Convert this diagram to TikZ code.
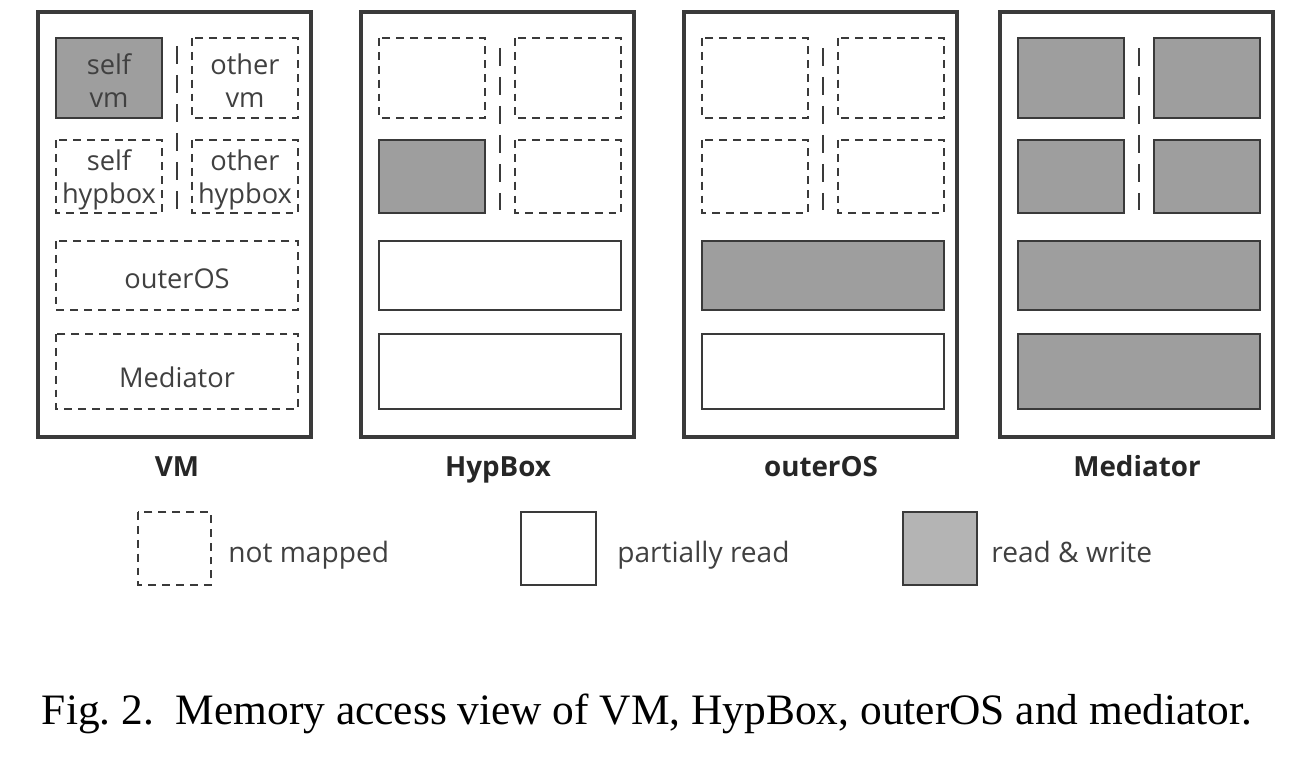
\documentclass[tikz,border=0pt]{standalone}
\usepackage{fontspec}
\setmainfont{Liberation Serif}
\newfontfamily\uifont{Open Sans}
\definecolor{edgegray}{HTML}{3A3A3A}
\definecolor{rwgray}{HTML}{9E9E9E}
\definecolor{keygray}{HTML}{B4B4B4}
\definecolor{labelgray}{HTML}{404040}
\tikzset{
  panel/.style={draw=edgegray, line width=2.3pt},
  unmapped/.style={draw=edgegray, line width=1.1pt, dash pattern=on 4.5pt off 3.4pt},
  partread/.style={draw=edgegray, line width=1.1pt, fill=white},
  readwrite/.style={draw=edgegray, line width=1.1pt, fill=rwgray},
  divider/.style={draw=edgegray, line width=1.1pt, dash pattern=on 10pt off 6.5pt},
  memtext/.style={font=\uifont\fontsize{15.5}{18.7}\selectfont, text=labelgray, align=center, inner sep=0pt},
  paneltitle/.style={font=\uifont\bfseries\fontsize{15.8}{18}\selectfont, text=black!85, anchor=base},
  keytext/.style={font=\uifont\fontsize{16}{18}\selectfont, text=labelgray, anchor=base west, inner sep=0pt}
}
\begin{document}
\begin{tikzpicture}[x=0.02cm, y=-0.02cm]
    \useasboundingbox (0,0) rectangle (1310,763);
    % VM
    \begin{scope}[shift={(0,0)}]
    \draw [panel] (38,12) rectangle (311,437);
    \draw [readwrite] (56,38) rectangle (162,118);
    \draw [unmapped] (192,38) rectangle (298,118);
    \draw [unmapped] (56,140) rectangle (162,213);
    \draw [unmapped] (192,140) rectangle (298,213);
    \draw [unmapped] (56,241) rectangle (298,310);
    \draw [unmapped] (56,334) rectangle (298,409);
    \draw [divider] (177,46) -- (177,213);
    \node [memtext] (vmself) at (109,81) {self\\vm};
    \node [memtext] (vmother) at (245,81) {other\\vm};
    \node [memtext] (vmselfhyp) at (109,180) {self\\hypbox};
    \node [memtext] (vmotherhyp) at (245,180) {other\\hypbox};
    \node [memtext] (vmouter) at (177,279) {outerOS};
    \node [memtext] (vmmediator) at (177,377) {Mediator};
    \node [paneltitle] (titlevm) at (177,476) {VM};
    \end{scope}
    % HypBox
    \begin{scope}[shift={(323,0)}]
    \draw [panel] (38,12) rectangle (311,437);
    \draw [unmapped] (56,38) rectangle (162,118);
    \draw [unmapped] (192,38) rectangle (298,118);
    \draw [readwrite] (56,140) rectangle (162,213);
    \draw [unmapped] (192,140) rectangle (298,213);
    \draw [partread] (56,241) rectangle (298,310);
    \draw [partread] (56,334) rectangle (298,409);
    \draw [divider] (177,48) -- (177,210);
    \node [paneltitle] (titlehyp) at (175,476) {HypBox};
    \end{scope}
    % outerOS
    \begin{scope}[shift={(646,0)}]
    \draw [panel] (38,12) rectangle (311,437);
    \draw [unmapped] (56,38) rectangle (162,118);
    \draw [unmapped] (192,38) rectangle (298,118);
    \draw [unmapped] (56,140) rectangle (162,213);
    \draw [unmapped] (192,140) rectangle (298,213);
    \draw [readwrite] (56,241) rectangle (298,310);
    \draw [partread] (56,334) rectangle (298,409);
    \draw [divider] (177,48) -- (177,210);
    \node [paneltitle] (titleouter) at (175,476) {outerOS};
    \end{scope}
    % Mediator
    \begin{scope}[shift={(962,0)}]
    \draw [panel] (38,12) rectangle (311,437);
    \draw [readwrite] (56,38) rectangle (162,118);
    \draw [readwrite] (192,38) rectangle (298,118);
    \draw [readwrite] (56,140) rectangle (162,213);
    \draw [readwrite] (192,140) rectangle (298,213);
    \draw [readwrite] (56,241) rectangle (298,310);
    \draw [readwrite] (56,334) rectangle (298,409);
    \draw [divider] (177,48) -- (177,210);
    \node [paneltitle] (titlemed) at (175,476) {Mediator};
    \end{scope}
    % legend
    \draw [unmapped] (138,512) rectangle (211,585);
    \node [keytext] (keyunmapped) at (228,562) {not mapped};
    \draw [partread] (521,512) rectangle (596,585);
    \node [keytext] (keypartial) at (617,562) {partially read};
    \draw [readwrite, fill=keygray] (903,512) rectangle (977,585);
    \node [keytext] (keyrw) at (991,562) {read \& write};
    % caption
    \node [font=\fontsize{24.7}{28}\selectfont] (caption) at (647,714) {Fig.~2.\enspace Memory access view of VM, HypBox, outerOS and mediator.};
\end{tikzpicture}
\end{document}
